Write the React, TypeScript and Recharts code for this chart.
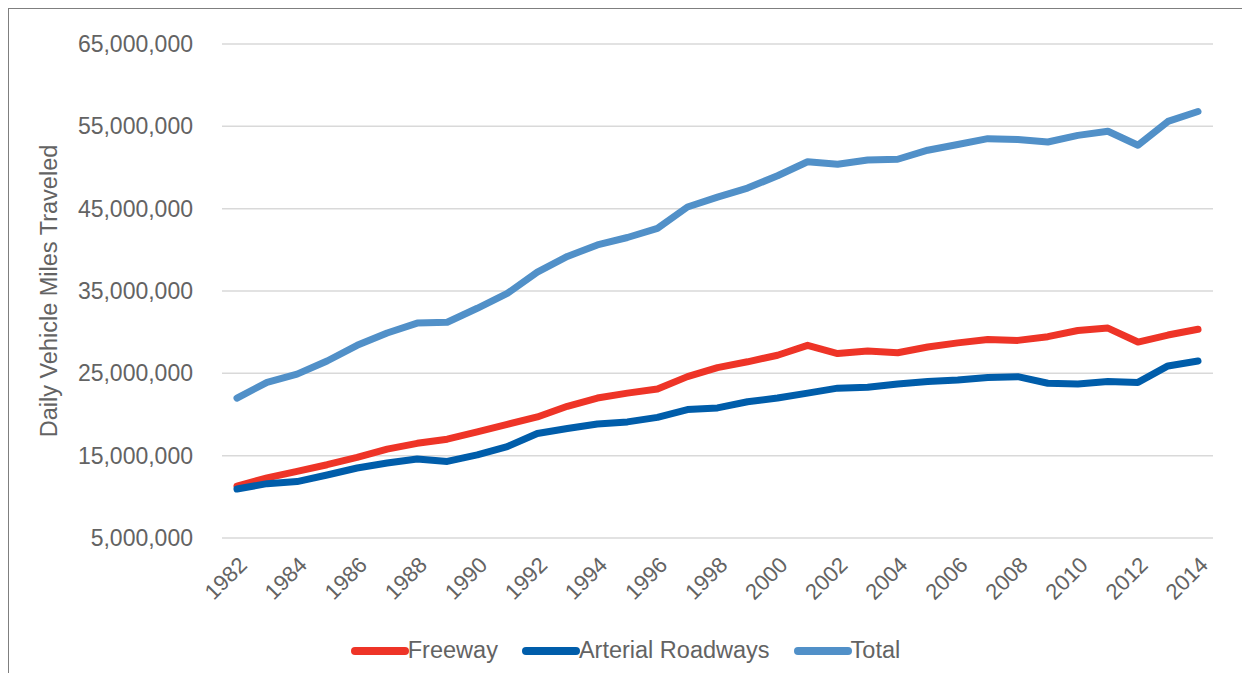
import { LineChart, Line, XAxis, YAxis, CartesianGrid, Legend } from "recharts";

// daily VMT, in millions
const years = [
    "1982", "1983", "1984", "1985", "1986", "1987", "1988", "1989", "1990", "1991", "1992",
    "1993", "1994", "1995", "1996", "1997", "1998", "1999", "2000", "2001", "2002", "2003",
    "2004", "2005", "2006", "2007", "2008", "2009", "2010", "2011", "2012", "2013", "2014",
];
const freeway = [
    11.3, 12.3, 13.1, 13.9, 14.8, 15.8, 16.5, 17.0, 17.9, 18.8, 19.7,
    21.0, 22.0, 22.6, 23.1, 24.6, 25.7, 26.4, 27.2, 28.4, 27.4, 27.7,
    27.5, 28.2, 28.7, 29.1, 29.0, 29.45, 30.2, 30.5, 28.8, 29.65, 30.35,
];
const arterial = [
    10.95, 11.6, 11.85, 12.65, 13.5, 14.1, 14.6, 14.3, 15.1, 16.1, 17.7,
    18.3, 18.85, 19.1, 19.65, 20.6, 20.8, 21.55, 22.0, 22.6, 23.2, 23.3,
    23.7, 24.0, 24.2, 24.5, 24.6, 23.8, 23.7, 24.0, 23.9, 25.9, 26.5,
];
const total = [
    22.0, 23.9, 24.9, 26.5, 28.4, 29.9, 31.1, 31.2, 32.9, 34.7, 37.3,
    39.2, 40.6, 41.5, 42.6, 45.2, 46.4, 47.5, 49.0, 50.7, 50.4, 50.9,
    51.0, 52.1, 52.8, 53.5, 53.4, 53.1, 53.9, 54.4, 52.7, 55.6, 56.8,
];
const yTicks = [5, 15, 25, 35, 45, 55, 65];

const data = years.map((year, i) => ({
    year,
    freeway: freeway[i] * 1e6,
    arterial: arterial[i] * 1e6,
    total: total[i] * 1e6,
}));

// boundaries between years, for the small tick marks on the axis
const boundaries = years.map((_, i) => i).concat(years.length);

const FONT = '"Liberation Sans", Arial, Helvetica, sans-serif';
const TEXT = "#636363";
const GRID = "#d9d9d9";

const series = [
    { key: "freeway", name: "Freeway", color: "#EE3427" },
    { key: "arterial", name: "Arterial Roadways", color: "#005DAA" },
    { key: "total", name: "Total", color: "#5190C8" },
];

function YearTick({ x, y, payload }: any) {
    const yr = Number(payload.value);
    if (yr % 2 !== 0) return null;
    return (
        <text
            x={x}
            y={y}
            dy={16}
            textAnchor="end"
            transform={`rotate(-45, ${x}, ${y})`}
            fill={TEXT}
            fontSize={22}
            fontFamily={FONT}
        >
            {payload.value}
        </text>
    );
}

function YLabel({ viewBox }: any) {
    const cx = viewBox.x + 40;
    const cy = viewBox.y + viewBox.height / 2;
    return (
        <text
            x={cx}
            y={cy}
            textAnchor="middle"
            dominantBaseline="central"
            transform={`rotate(-90, ${cx}, ${cy})`}
            fill={TEXT}
            fontSize={23.5}
            fontFamily={FONT}
        >
            Daily Vehicle Miles Traveled
        </text>
    );
}

function LegendContent() {
    return (
        <div style={{ display: "flex", justifyContent: "center", alignItems: "center", gap: 23, fontFamily: FONT }}>
            {series.map((s) => (
                <div key={s.key} style={{ display: "flex", alignItems: "center" }}>
                    <svg width={60} height={12}>
                        <line x1={5} y1={6} x2={55} y2={6} stroke={s.color} strokeWidth={8} strokeLinecap="round" />
                    </svg>
                    <span style={{ fontSize: 23.5, color: TEXT, marginLeft: -2 }}>{s.name}</span>
                </div>
            ))}
        </div>
    );
}

export default function App() {
    return (
        <div style={{ width: 1250, height: 680, border: "1px solid #7f7f7f", background: "#fff" }}>
            <LineChart width={1250} height={680} data={data} margin={{ top: 35, right: 46, bottom: 12, left: 0 }}>
                <CartesianGrid stroke={GRID} strokeWidth={1.5} vertical={false} />
                <XAxis
                    xAxisId={0}
                    type="number"
                    domain={[0, years.length]}
                    ticks={boundaries}
                    tick={false}
                    height={0}
                    stroke="#cfcfcf"
                    strokeWidth={1.5}
                    tickSize={6}
                    allowDataOverflow
                />
                <XAxis
                    xAxisId="year"
                    dataKey="year"
                    interval={0}
                    padding={{ left: 15, right: 15 }}
                    tick={<YearTick />}
                    tickLine={false}
                    axisLine={false}
                    tickSize={0}
                    tickMargin={17}
                    height={99}
                />
                <YAxis
                    width={213}
                    domain={[5e6, 65e6]}
                    ticks={yTicks.map((v) => v * 1e6)}
                    tickFormatter={(v) => v.toLocaleString("en-US")}
                    tick={{ fill: TEXT, fontSize: 23, fontFamily: FONT }}
                    tickLine={false}
                    axisLine={false}
                    tickSize={0}
                    tickMargin={29}
                    label={<YLabel />}
                />
                <Legend
                    verticalAlign="bottom"
                    height={40}
                    content={<LegendContent />}
                    wrapperStyle={{ left: 0, width: 1232 }}
                />
                {series.map((s) => (
                    <Line
                        key={s.key}
                        xAxisId="year"
                        type="linear"
                        dataKey={s.key}
                        name={s.name}
                        stroke={s.color}
                        strokeWidth={7}
                        strokeLinecap="round"
                        strokeLinejoin="round"
                        dot={false}
                        isAnimationActive={false}
                    />
                ))}
            </LineChart>
        </div>
    );
}
